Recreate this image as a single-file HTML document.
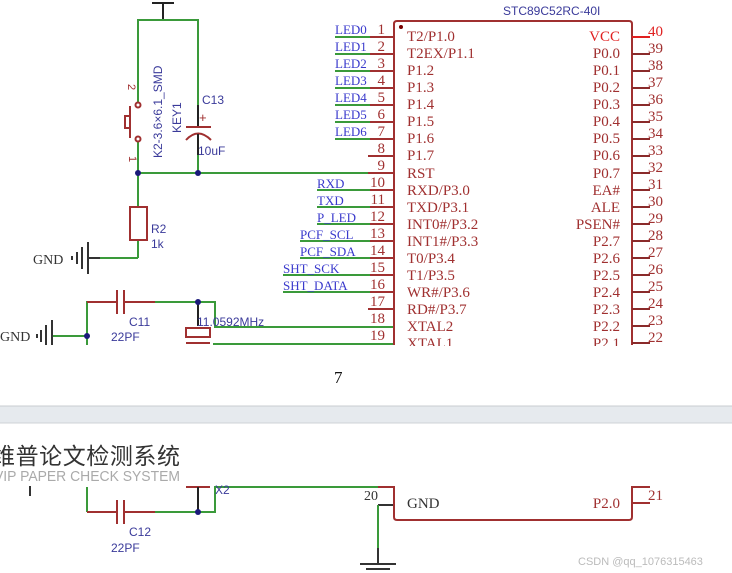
<!DOCTYPE html>
<html><head><meta charset="utf-8"><style>
html,body{margin:0;padding:0;background:#fff;width:732px;height:573px;overflow:hidden}
svg{display:block}
.s{font-family:"Liberation Serif",serif}
.a{font-family:"Liberation Sans",sans-serif}
</style></head><body>
<svg width="732" height="573" viewBox="0 0 732 573" xmlns="http://www.w3.org/2000/svg">
<rect width="732" height="573" fill="#fff"/>
<g stroke-width="2" fill="none">
<line x1="163" y1="2" x2="163" y2="20" stroke="#222"/>
<line x1="152" y1="3" x2="174" y2="3" stroke="#222"/>
<polyline points="138,102 138,20 198,20 198,117" stroke="#3a9a3a"/>
<line x1="198" y1="140" x2="198" y2="173" stroke="#3a9a3a"/>
<line x1="138" y1="173" x2="372" y2="173" stroke="#3a9a3a"/>
<line x1="138" y1="173" x2="138" y2="207" stroke="#3a9a3a"/>
<line x1="138" y1="240" x2="138" y2="258" stroke="#3a9a3a"/>
<line x1="100" y1="258" x2="138" y2="258" stroke="#3a9a3a"/>
<line x1="138" y1="142" x2="138" y2="172" stroke="#3a9a3a"/>
</g>
<g stroke="#a03030" stroke-width="2" fill="none">
<circle cx="138" cy="105" r="2.5"/><circle cx="138" cy="139" r="2.5"/>
<line x1="130" y1="106" x2="130" y2="138"/>
<rect x="125" y="116" width="5" height="12"/>
</g>
<text class="a" x="128" y="84" font-size="11" fill="#a03030" transform="rotate(90 128 84)">2</text>
<text class="a" x="129" y="156" font-size="11" fill="#a03030" transform="rotate(90 129 156)">1</text>
<text class="a" x="162" y="158" font-size="12" fill="#3a3a9a" transform="rotate(-90 162 158)">K2-3.6×6.1_SMD</text>
<text class="a" x="181" y="133" font-size="12" fill="#3a3a9a" transform="rotate(-90 181 133)">KEY1</text>
<line x1="198" y1="105" x2="198" y2="127" stroke="#222" stroke-width="2"/>
<line x1="186" y1="127" x2="211" y2="127" stroke="#a03030" stroke-width="2"/>
<path d="M186 140 Q198 127 211 140" stroke="#a03030" stroke-width="2" fill="none"/>
<line x1="198" y1="134" x2="198" y2="155" stroke="#222" stroke-width="2"/>
<text class="a" x="202" y="104" font-size="12" fill="#3a3a9a">C13</text>
<text class="a" x="199" y="122" font-size="13" fill="#a03030">+</text>
<text class="a" x="198" y="155" font-size="12" fill="#3a3a9a">10uF</text>
<circle cx="138" cy="173" r="3" fill="#1a1a7a"/><circle cx="198" cy="173" r="3" fill="#1a1a7a"/>
<rect x="130" y="207" width="17" height="33" fill="none" stroke="#a03030" stroke-width="2"/>
<text class="a" x="151" y="233" font-size="12" fill="#3a3a9a">R2</text>
<text class="a" x="151" y="248" font-size="12" fill="#3a3a9a">1k</text>
<g stroke="#333" stroke-width="2">
<line x1="88" y1="258" x2="100" y2="258"/>
<line x1="88" y1="242" x2="88" y2="274"/><line x1="82" y1="247" x2="82" y2="269"/><line x1="77" y1="252" x2="77" y2="264"/><line x1="72" y1="256" x2="72" y2="260"/>
</g>
<text class="s" x="33" y="264" font-size="14" fill="#333">GND</text>
<g stroke-width="2" fill="none">
<polyline points="87,345 87,302 110,302" stroke="#3a9a3a"/>
<line x1="87" y1="302" x2="117" y2="302" stroke="#a03030"/>
<line x1="117" y1="290" x2="117" y2="314" stroke="#a03030"/>
<line x1="124" y1="290" x2="124" y2="314" stroke="#a03030"/>
<line x1="124" y1="302" x2="155" y2="302" stroke="#a03030"/>
<polyline points="155,302 215,302 215,327 394,327" stroke="#3a9a3a"/>
<line x1="213" y1="344" x2="394" y2="344" stroke="#3a9a3a"/>
<line x1="198" y1="302" x2="198" y2="326" stroke="#222"/>
<rect x="186" y="328" width="24" height="9" stroke="#a03030"/>
<line x1="186" y1="343" x2="210" y2="343" stroke="#a03030"/>
<line x1="52" y1="336" x2="87" y2="336" stroke="#3a9a3a"/>
</g>
<circle cx="198" cy="302" r="3" fill="#1a1a7a"/><circle cx="87" cy="336" r="3" fill="#1a1a7a"/>
<text class="a" x="129" y="326" font-size="12" fill="#3a3a9a">C11</text>
<text class="a" x="111" y="341" font-size="12" fill="#3a3a9a">22PF</text>
<text class="a" x="197" y="326" font-size="12" fill="#3a3a9a">11.0592MHz</text>
<g stroke="#333" stroke-width="2">
<line x1="52" y1="320" x2="52" y2="345"/><line x1="46" y1="325" x2="46" y2="345"/><line x1="41" y1="330" x2="41" y2="342"/><line x1="37" y1="334" x2="37" y2="338"/>
</g>
<text class="s" x="0" y="341" font-size="14" fill="#333">GND</text>
<text class="a" x="503" y="15" font-size="12" fill="#3a3a9a">STC89C52RC-40I</text>
<path d="M394 345 L394 24 Q394 21 397 21 L629 21 Q632 21 632 24 L632 345" stroke="#a03030" stroke-width="2" fill="none"/>
<circle cx="401" cy="27" r="2" fill="#700"/>
<g class="s" font-size="15" fill="#a03030">
<text x="407" y="41">T2/P1.0</text><text x="407" y="58">T2EX/P1.1</text><text x="407" y="75">P1.2</text><text x="407" y="92">P1.3</text><text x="407" y="109">P1.4</text><text x="407" y="126">P1.5</text><text x="407" y="143">P1.6</text><text x="407" y="160">P1.7</text><text x="407" y="178">RST</text><text x="407" y="195">RXD/P3.0</text><text x="407" y="212">TXD/P3.1</text><text x="407" y="229">INT0#/P3.2</text><text x="407" y="246">INT1#/P3.3</text><text x="407" y="263">T0/P3.4</text><text x="407" y="280">T1/P3.5</text><text x="407" y="297">WR#/P3.6</text><text x="407" y="314">RD#/P3.7</text><text x="407" y="331">XTAL2</text><text x="407" y="348">XTAL1</text>
<g text-anchor="end">
<text x="620" y="41" fill="#e02020">VCC</text><text x="620" y="58">P0.0</text><text x="620" y="75">P0.1</text><text x="620" y="92">P0.2</text><text x="620" y="109">P0.3</text><text x="620" y="126">P0.4</text><text x="620" y="143">P0.5</text><text x="620" y="160">P0.6</text><text x="620" y="178">P0.7</text><text x="620" y="195">EA#</text><text x="620" y="212">ALE</text><text x="620" y="229">PSEN#</text><text x="620" y="246">P2.7</text><text x="620" y="263">P2.6</text><text x="620" y="280">P2.5</text><text x="620" y="297">P2.4</text><text x="620" y="314">P2.3</text><text x="620" y="331">P2.2</text><text x="620" y="348">P2.1</text>
<text x="385" y="34">1</text><text x="385" y="51">2</text><text x="385" y="68">3</text><text x="385" y="85">4</text><text x="385" y="102">5</text><text x="385" y="119">6</text><text x="385" y="136">7</text><text x="385" y="153">8</text><text x="385" y="170">9</text><text x="385" y="187">10</text><text x="385" y="204">11</text><text x="385" y="221">12</text><text x="385" y="238">13</text><text x="385" y="255">14</text><text x="385" y="272">15</text><text x="385" y="289">16</text><text x="385" y="306">17</text><text x="385" y="323">18</text><text x="385" y="340">19</text>
</g>
<text x="648" y="36" fill="#e02020">40</text><text x="648" y="53">39</text><text x="648" y="70">38</text><text x="648" y="87">37</text><text x="648" y="104">36</text><text x="648" y="121">35</text><text x="648" y="138">34</text><text x="648" y="155">33</text><text x="648" y="172">32</text><text x="648" y="189">31</text><text x="648" y="206">30</text><text x="648" y="223">29</text><text x="648" y="240">28</text><text x="648" y="257">27</text><text x="648" y="274">26</text><text x="648" y="291">25</text><text x="648" y="308">24</text><text x="648" y="325">23</text><text x="648" y="342">22</text>
</g>
<g stroke-width="2">
<line x1="632" y1="37" x2="650" y2="37" stroke="#e02020"/>
<g stroke="#8a2a2a">
<line x1="632" y1="54" x2="650" y2="54"/><line x1="632" y1="71" x2="650" y2="71"/><line x1="632" y1="88" x2="650" y2="88"/><line x1="632" y1="105" x2="650" y2="105"/><line x1="632" y1="122" x2="650" y2="122"/><line x1="632" y1="139" x2="650" y2="139"/><line x1="632" y1="156" x2="650" y2="156"/><line x1="632" y1="173" x2="650" y2="173"/><line x1="632" y1="190" x2="650" y2="190"/><line x1="632" y1="207" x2="650" y2="207"/><line x1="632" y1="224" x2="650" y2="224"/><line x1="632" y1="241" x2="650" y2="241"/><line x1="632" y1="258" x2="650" y2="258"/><line x1="632" y1="275" x2="650" y2="275"/><line x1="632" y1="292" x2="650" y2="292"/><line x1="632" y1="309" x2="650" y2="309"/><line x1="632" y1="326" x2="650" y2="326"/><line x1="632" y1="343" x2="650" y2="343"/>
</g>
<g stroke="#a03030">
<line x1="368" y1="37" x2="394" y2="37"/><line x1="368" y1="54" x2="394" y2="54"/><line x1="368" y1="71" x2="394" y2="71"/><line x1="368" y1="88" x2="394" y2="88"/><line x1="368" y1="105" x2="394" y2="105"/><line x1="368" y1="122" x2="394" y2="122"/><line x1="368" y1="139" x2="394" y2="139"/><line x1="368" y1="156" x2="394" y2="156"/><line x1="368" y1="173" x2="394" y2="173"/><line x1="368" y1="190" x2="394" y2="190"/><line x1="368" y1="207" x2="394" y2="207"/><line x1="368" y1="224" x2="394" y2="224"/><line x1="368" y1="241" x2="394" y2="241"/><line x1="368" y1="258" x2="394" y2="258"/><line x1="368" y1="275" x2="394" y2="275"/><line x1="368" y1="292" x2="394" y2="292"/><line x1="368" y1="309" x2="394" y2="309"/>
</g>
<g stroke="#3a9a3a">
<line x1="335" y1="37" x2="370" y2="37"/><line x1="335" y1="54" x2="370" y2="54"/><line x1="335" y1="71" x2="370" y2="71"/><line x1="335" y1="88" x2="370" y2="88"/><line x1="335" y1="105" x2="370" y2="105"/><line x1="335" y1="122" x2="370" y2="122"/><line x1="335" y1="139" x2="370" y2="139"/>
<line x1="317" y1="190" x2="370" y2="190"/><line x1="317" y1="207" x2="370" y2="207"/><line x1="317" y1="224" x2="370" y2="224"/><line x1="300" y1="241" x2="370" y2="241"/><line x1="300" y1="258" x2="370" y2="258"/><line x1="283" y1="275" x2="370" y2="275"/><line x1="283" y1="292" x2="370" y2="292"/>
</g>
</g>
<g class="s" font-size="13" fill="#3a3acc">
<text x="335" y="34">LED0</text><text x="335" y="51">LED1</text><text x="335" y="68">LED2</text><text x="335" y="85">LED3</text><text x="335" y="102">LED4</text><text x="335" y="119">LED5</text><text x="335" y="136">LED6</text>
<text x="317" y="188">RXD</text><text x="317" y="205">TXD</text><text x="317" y="222">P_LED</text><text x="300" y="239">PCF_SCL</text><text x="300" y="256">PCF_SDA</text><text x="283" y="273">SHT_SCK</text><text x="283" y="290">SHT_DATA</text>
</g>
<rect x="0" y="346" width="732" height="60" fill="#fff"/>
<text class="s" x="334" y="383" font-size="17" fill="#111">7</text>
<rect x="0" y="406" width="732" height="17" fill="#e6eaee"/>
<line x1="0" y1="406" x2="732" y2="406" stroke="#c8ccd0"/>
<line x1="0" y1="423" x2="732" y2="423" stroke="#cfd3d7"/>
<g stroke-width="2" fill="none">
<line x1="87" y1="487" x2="87" y2="512" stroke="#3a9a3a"/>
<line x1="87" y1="512" x2="117" y2="512" stroke="#a03030"/>
<line x1="117" y1="500" x2="117" y2="524" stroke="#a03030"/>
<line x1="124" y1="500" x2="124" y2="524" stroke="#a03030"/>
<line x1="124" y1="512" x2="155" y2="512" stroke="#a03030"/>
<polyline points="155,512 215,512 215,487 378,487" stroke="#3a9a3a"/>
<line x1="378" y1="487" x2="394" y2="487" stroke="#a03030"/>
<line x1="186" y1="487" x2="210" y2="487" stroke="#a03030"/>
<line x1="198" y1="487" x2="198" y2="512" stroke="#222"/>
<line x1="378" y1="505" x2="394" y2="505" stroke="#333"/>
<line x1="378" y1="505" x2="378" y2="548" stroke="#3a9a3a"/>
<line x1="378" y1="548" x2="378" y2="563" stroke="#333"/>
<line x1="360" y1="564" x2="396" y2="564" stroke="#333"/>
<line x1="366" y1="569" x2="390" y2="569" stroke="#333"/>
<path d="M394 486 L394 517 Q394 520 397 520 L629 520 Q632 520 632 517 L632 486" stroke="#a03030"/>
<line x1="632" y1="487" x2="650" y2="487" stroke="#a03030"/>
<line x1="632" y1="503" x2="650" y2="503" stroke="#a03030"/>
</g>
<circle cx="198" cy="512" r="3" fill="#1a1a7a"/>
<text class="a" x="129" y="536" font-size="12" fill="#3a3a9a">C12</text>
<text class="a" x="111" y="552" font-size="12" fill="#3a3a9a">22PF</text>
<text class="a" x="215" y="494" font-size="12" fill="#3a3a9a">X2</text>
<text class="s" x="364" y="500" font-size="14" fill="#333">20</text>
<text class="s" x="407" y="508" font-size="15" fill="#333">GND</text>
<text class="s" x="620" y="508" font-size="15" fill="#a03030" text-anchor="end">P2.0</text>
<text class="s" x="648" y="500" font-size="15" fill="#a03030">21</text>
<rect x="0" y="424" width="732" height="61" fill="#fff"/>
<text x="-8" y="464" font-size="23" fill="#333" font-family="'Noto Sans CJK SC',sans-serif" textLength="188">维普论文检测系统</text>
<text x="-6" y="481" font-size="15" fill="#aaa" font-family="'Liberation Sans',sans-serif" textLength="186" lengthAdjust="spacingAndGlyphs">VIP PAPER CHECK SYSTEM</text>
<line x1="30" y1="486" x2="30" y2="496" stroke="#333" stroke-width="2"/>
<text x="578" y="565" font-size="11" fill="#bbb" font-family="'Liberation Sans',sans-serif">CSDN @qq_1076315463</text>
</svg>
</body></html>
